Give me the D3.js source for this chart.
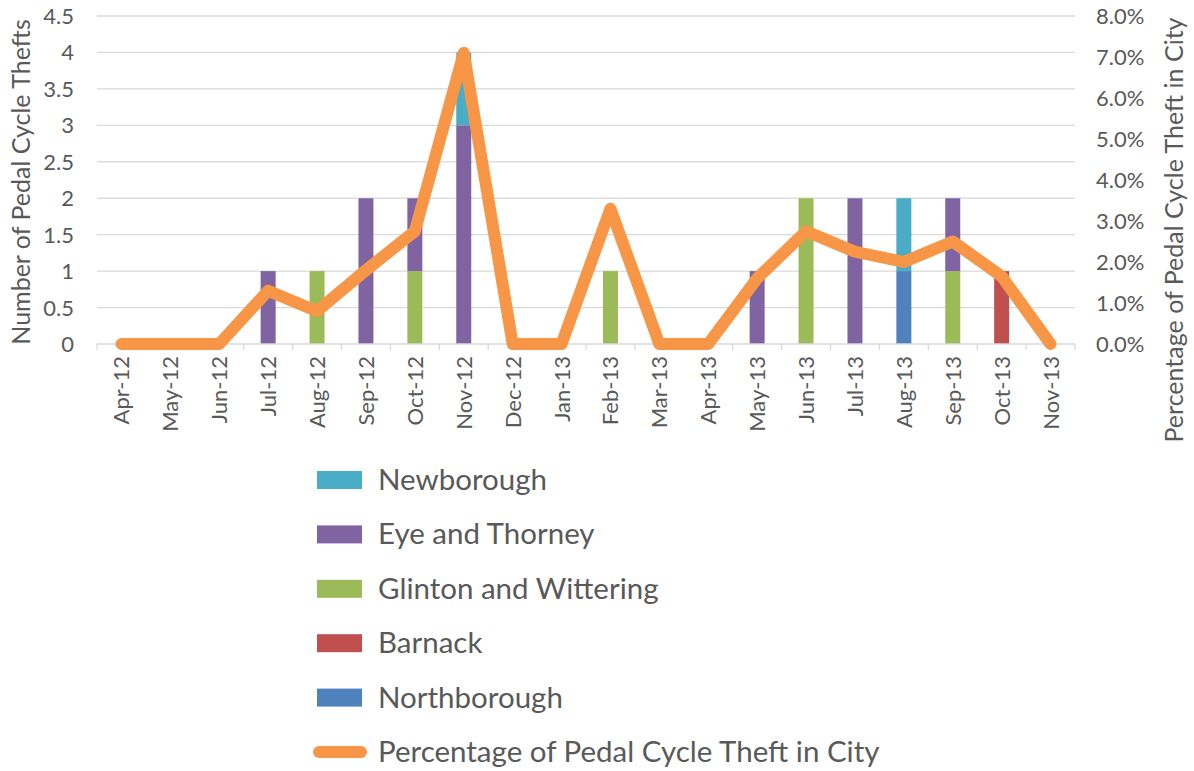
<!DOCTYPE html>
<html>
<head>
<meta charset="utf-8">
<script src="https://cdn.jsdelivr.net/npm/d3@7"></script>
<style>
  body { margin: 0; background: #fff; }
  svg text { font-family: Lato, "Open Sans", sans-serif; fill: #595959; }
</style>
</head>
<body>
<svg class="pedalChart" width="1194" height="771"></svg>
<script>
// months on the x axis
const months = ["Apr-12","May-12","Jun-12","Jul-12","Aug-12","Sep-12","Oct-12","Nov-12","Dec-12","Jan-13",
  "Feb-13","Mar-13","Apr-13","May-13","Jun-13","Jul-13","Aug-13","Sep-13","Oct-13","Nov-13"];

// thefts per ward (stack order bottom -> top)
const northborough = [0,0,0,0,0,0,0,0,0,0,0,0,0,0,0,0,1,0,0,0];
const barnack      = [0,0,0,0,0,0,0,0,0,0,0,0,0,0,0,0,0,0,1,0];
const glinton      = [0,0,0,0,1,0,1,0,0,0,1,0,0,0,2,0,0,1,0,0];
const eyeThorney   = [0,0,0,1,0,2,1,3,0,0,0,0,0,1,0,2,0,1,0,0];
const newborough   = [0,0,0,0,0,0,0,1,0,0,0,0,0,0,0,0,1,0,0,0];

// % of city pedal cycle theft
const cityPct = [0,0,0,1.3,0.8,1.8,2.75,7.1,0,0,3.3,0,0,1.6,2.75,2.25,2.0,2.5,1.65,0];

const leftTicks = [0,0.5,1,1.5,2,2.5,3,3.5,4,4.5];
const rightTicks = [0,1,2,3,4,5,6,7,8];

const series = [
  {key: "Northborough", values: northborough, color: "#4f81bd"},
  {key: "Barnack", values: barnack, color: "#c0504d"},
  {key: "Glinton and Wittering", values: glinton, color: "#9bbb59"},
  {key: "Eye and Thorney", values: eyeThorney, color: "#8064a2"},
  {key: "Newborough", values: newborough, color: "#4bacc6"}
];
const lineName = "Percentage of Pedal Cycle Theft in City";
const lineColor = "#f79646";

const svg = d3.select(".pedalChart");
const plot = {left: 97, right: 1075, top: 16, bottom: 344};

const x = d3.scaleBand().domain(months).range([plot.left, plot.right]);
const y = d3.scaleLinear().domain([0, 4.5]).range([plot.bottom, plot.top]);
const y2 = d3.scaleLinear().domain([0, 8]).range([plot.bottom, plot.top]);

// gridlines
svg.append("g").selectAll("line").data(leftTicks.slice(1)).join("line")
  .attr("x1", plot.left).attr("x2", plot.right)
  .attr("y1", d => y(d)).attr("y2", d => y(d))
  .attr("stroke", "#d9d9d9").attr("stroke-width", 1.3);

// stacked bars
let rows = months.map((m, i) => {
  let r = {month: m};
  series.forEach(s => r[s.key] = s.values[i]);
  return r;
});
const stacked = d3.stack().keys(series.map(s => s.key))(rows);
const barW = 15;
svg.append("g").selectAll("g").data(stacked).join("g")
  .attr("fill", (d, i) => series[i].color)
  .selectAll("rect").data(d => d.filter(p => p[1] > p[0])).join("rect")
  .attr("x", d => x(d.data.month) + x.bandwidth() / 2 - barW / 2)
  .attr("width", barW)
  .attr("y", d => y(d[1]))
  .attr("height", d => y(d[0]) - y(d[1]));

// x axis
const xAxis = svg.append("g").attr("transform", `translate(0,${plot.bottom})`);
xAxis.append("line").attr("x1", plot.left).attr("x2", plot.right)
  .attr("stroke", "#d9d9d9").attr("stroke-width", 1.3);
const bounds = d3.range(months.length + 1).map(i => plot.left + i * x.step());
xAxis.selectAll(".tk").data(bounds).join("line").attr("class", "tk")
  .attr("x1", d => d).attr("x2", d => d).attr("y1", 0).attr("y2", 6)
  .attr("stroke", "#d9d9d9").attr("stroke-width", 1.3);
xAxis.selectAll("text").data(months).join("text")
  .attr("transform", d => `translate(${x(d) + x.bandwidth() / 2 + 8},12) rotate(-90)`)
  .attr("text-anchor", "end")
  .style("font-size", "22px")
  .text(d => d);

// left axis labels
svg.append("g").selectAll("text").data(leftTicks).join("text")
  .attr("x", 74).attr("y", d => y(d) + 8)
  .attr("text-anchor", "end").style("font-size", "22px")
  .text(d => d);

// right axis labels
svg.append("g").selectAll("text").data(rightTicks).join("text")
  .attr("x", 1096).attr("y", d => y2(d) + 8)
  .attr("text-anchor", "start").style("font-size", "22px")
  .text(d => d3.format(".1f")(d) + "%");

// axis titles
svg.append("text")
  .attr("transform", `translate(30,${(plot.top + plot.bottom) / 2 + 2}) rotate(-90)`)
  .attr("text-anchor", "middle").style("font-size", "25px")
  .text("Number of Pedal Cycle Thefts");
svg.append("text")
  .attr("transform", `translate(1183,230) rotate(-90)`)
  .attr("text-anchor", "middle").style("font-size", "25px")
  .text("Percentage of Pedal Cycle Theft in City");

// percentage line
const line = d3.line()
  .x((d, i) => x(months[i]) + x.bandwidth() / 2)
  .y(d => y2(d));
svg.append("path").datum(cityPct)
  .attr("d", line)
  .attr("fill", "none").attr("stroke", lineColor)
  .attr("stroke-width", 12).attr("stroke-linejoin", "round").attr("stroke-linecap", "round");

// legend
const legendItems = series.slice().reverse();
const legend = svg.append("g");
const rowY = i => 480 + i * 54.4;
legend.selectAll("rect").data(legendItems).join("rect")
  .attr("x", 317).attr("y", (d, i) => rowY(i) - 9)
  .attr("width", 45).attr("height", 18)
  .attr("fill", d => d.color);
legend.append("line")
  .attr("x1", 319).attr("x2", 361)
  .attr("y1", rowY(5)).attr("y2", rowY(5))
  .attr("stroke", lineColor).attr("stroke-width", 12).attr("stroke-linecap", "round");
legend.selectAll("text").data(legendItems.map(d => d.key).concat([lineName])).join("text")
  .attr("x", 378).attr("y", (d, i) => rowY(i) + 10)
  .style("font-size", "29.5px")
  .text(d => d);
</script>
</body>
</html>
